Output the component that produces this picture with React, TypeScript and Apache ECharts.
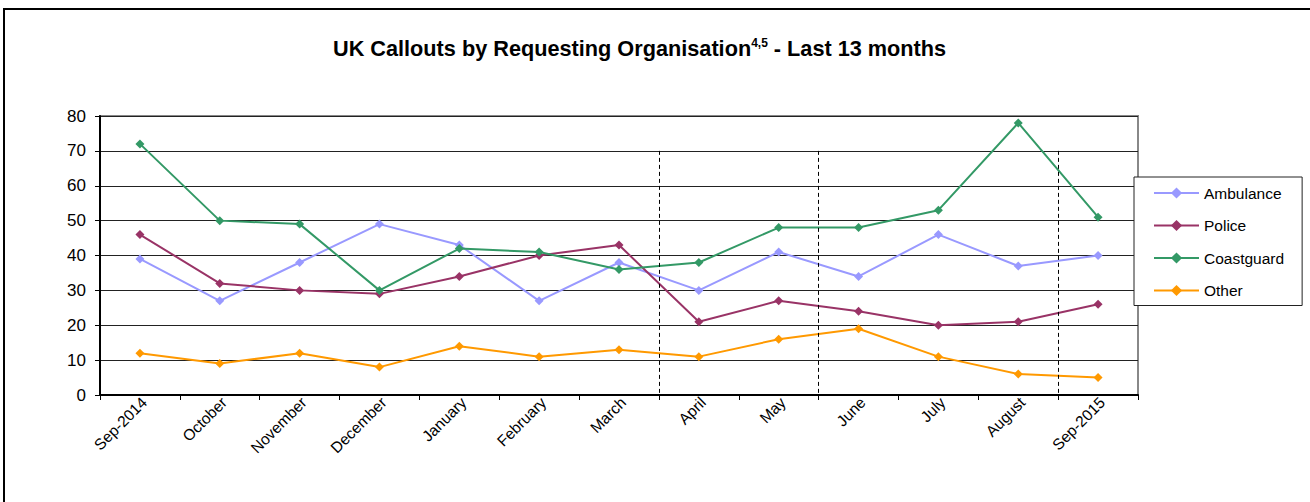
import React, { useEffect, useRef } from "react";
import * as echarts from "echarts";

const categories = ["Sep-2014", "October", "November", "December", "January", "February", "March", "April", "May", "June", "July", "August", "Sep-2015"];
const ambulance = [39, 27, 38, 49, 43, 27, 38, 30, 41, 34, 46, 37, 40];
const police = [46, 32, 30, 29, 34, 40, 43, 21, 27, 24, 20, 21, 26];
const coastguard = [72, 50, 49, 30, 42, 41, 36, 38, 48, 48, 53, 78, 51];
const other = [12, 9, 12, 8, 14, 11, 13, 11, 16, 19, 11, 6, 5];
// dividers between categories (index positions), spanning value range
const dividers = [6.5, 8.5, 11.5];
const dividerTop = 70;

const FONT = "Arial, 'Liberation Sans', sans-serif";

export default function App() {
  const ref = useRef<HTMLDivElement>(null);
  useEffect(() => {
    document.body.style.margin = "0";
    const chart = echarts.init(ref.current!, null, { renderer: "svg" });
    const mk = (name: string, data: number[], color: string) => ({
      name,
      type: "line",
      data,
      symbol: "diamond",
      symbolSize: 9,
      lineStyle: { color, width: 2 },
      itemStyle: { color },
      xAxisIndex: 0,
      yAxisIndex: 0,
    });
    chart.setOption({
      animation: false,
      backgroundColor: "#fff",
      textStyle: { fontFamily: FONT },
      title: {
        text: "UK Callouts by Requesting Organisation{sup|4,5} - Last 13 months",
        left: 328,
        top: 32,
        textStyle: {
          fontFamily: FONT,
          fontSize: 21.7,
          fontWeight: "bold",
          color: "#000",
          rich: {
            sup: { fontFamily: FONT, fontSize: 12, fontWeight: "bold", color: "#000", verticalAlign: "top", padding: [0, 0, 10, 0] },
          },
        },
      },
      graphic: [
        {
          type: "rect",
          shape: { x: 4, y: 9, width: 1400, height: 600 },
          style: { fill: "none", stroke: "#000", lineWidth: 2 },
          silent: true,
          z: -1,
        },
      ],
      legend: {
        orient: "vertical",
        left: 1134,
        top: 177,
        data: ["Ambulance", "Police", "Coastguard", "Other"],
        backgroundColor: "#fff",
        borderColor: "#222",
        borderWidth: 1,
        padding: [8, 18, 7, 19],
        itemGap: 16.5,
        itemWidth: 45,
        itemHeight: 14,
        textStyle: { fontFamily: FONT, fontSize: 15.5, color: "#000" },
      },
      grid: {
        left: 100,
        right: 172,
        top: 116,
        bottom: 107,
        show: true,
        borderColor: "#888",
        borderWidth: 2,
        backgroundColor: "transparent",
      },
      xAxis: [
        {
          type: "category",
          data: categories,
          boundaryGap: true,
          axisLine: { lineStyle: { color: "#000", width: 2 } },
          axisTick: { show: true, inside: false, length: 5, alignWithLabel: false, lineStyle: { color: "#000" } },
          axisLabel: { rotate: 45, fontSize: 15.5, color: "#000", fontFamily: FONT, margin: 9, interval: 0, padding: [0, -6, 0, 0] },
          splitLine: { show: false },
        },
        {
          type: "value",
          min: -0.5,
          max: 12.5,
          show: false,
          splitLine: { show: false },
        },
      ],
      yAxis: {
        type: "value",
        min: 0,
        max: 80,
        interval: 10,
        axisLine: { show: true, onZero: false, lineStyle: { color: "#000", width: 2 } },
        axisTick: { show: true, length: 5, lineStyle: { color: "#000" } },
        axisLabel: { fontSize: 17, color: "#000", fontFamily: FONT, margin: 14 },
        splitLine: { show: true, lineStyle: { color: "#222", width: 1 } },
      },
      series: [
        mk("Ambulance", ambulance, "#9999FF"),
        mk("Police", police, "#993366"),
        mk("Coastguard", coastguard, "#339966"),
        mk("Other", other, "#FF9900"),
        {
          name: "dividers",
          type: "line",
          xAxisIndex: 1,
          yAxisIndex: 0,
          data: [],
          silent: true,
          markLine: {
            silent: true,
            symbol: "none",
            label: { show: false },
            lineStyle: { color: "#000", type: [4, 3], width: 1 },
            data: dividers.map((d) => [{ coord: [d, dividerTop] }, { coord: [d, 0] }]),
          },
        },
      ],
    });
    return () => chart.dispose();
  }, []);
  return <div ref={ref} style={{ width: 1310, height: 502 }} />;
}
